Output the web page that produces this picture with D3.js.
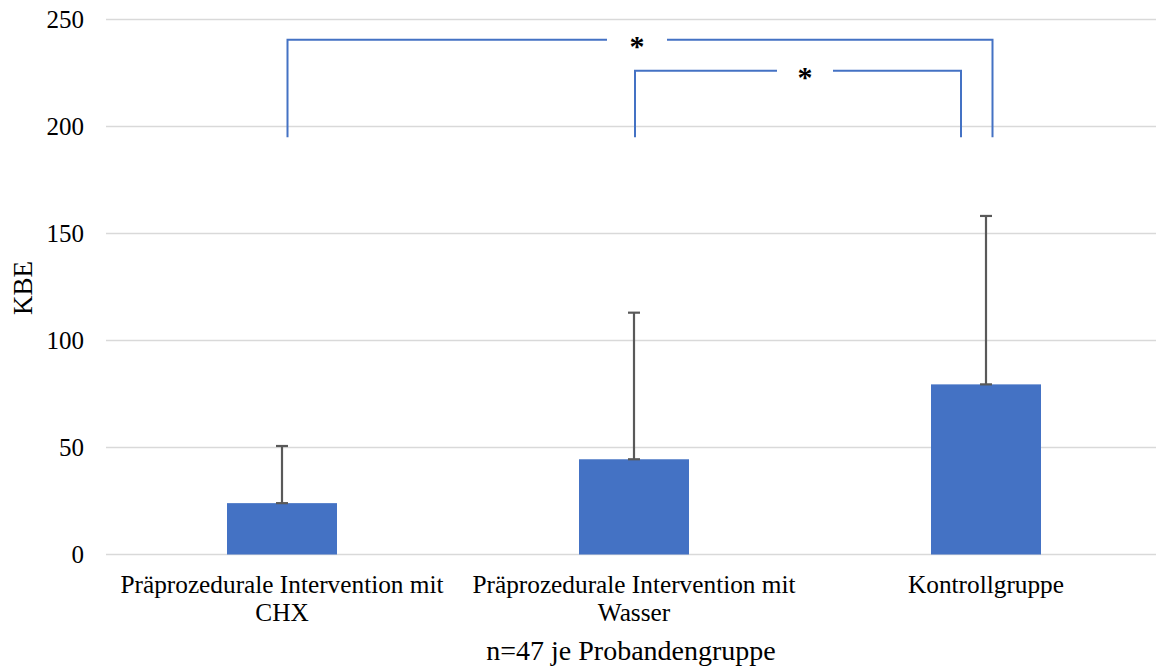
<!DOCTYPE html>
<html>
<head>
<meta charset="utf-8">
<script src="https://cdn.jsdelivr.net/npm/d3@7"></script>
<style>
  html, body { margin: 0; padding: 0; background: #fff; }
  text { font-family: "Liberation Serif", "Times New Roman", serif; fill: #000; }
</style>
</head>
<body>
<svg id="chart" width="1156" height="668"></svg>
<script>
const categories = [
  ['Präprozedurale Intervention mit', 'CHX'],
  ['Präprozedurale Intervention mit', 'Wasser'],
  ['Kontrollgruppe']
];
const means = [24, 44.5, 79.5];
const errTops = [50.7, 113, 158.2];
const yTicks = [0, 50, 100, 150, 200, 250];
// significance brackets: [from, to, baseline, top]
const brackets = [
  { from: 0, to: 2, base: 195, top: 240.5 },
  { from: 1, to: 2, base: 195, top: 226 }
];

const svg = d3.select('#chart');
const plotLeft = 106, plotRight = 1162, plotTop = 19.5, plotBottom = 554.5;

const x = d3.scaleBand()
  .domain(d3.range(categories.length))
  .range([plotLeft, plotRight])
  .paddingInner(0.6875)
  .paddingOuter(0.34375);

const y = d3.scaleLinear()
  .domain([0, 250])
  .range([plotBottom, plotTop]);

// grid
svg.append('g')
  .selectAll('line')
  .data(yTicks)
  .enter().append('line')
  .attr('x1', plotLeft).attr('x2', 1156)
  .attr('y1', d => y(d)).attr('y2', d => y(d))
  .attr('stroke', '#d9d9d9')
  .attr('stroke-width', 1.5);

// y tick labels
svg.append('g')
  .selectAll('text')
  .data(yTicks)
  .enter().append('text')
  .attr('x', 84)
  .attr('y', d => y(d) + 8)
  .attr('text-anchor', 'end')
  .style('font-size', '25px')
  .text(d => d);

// bars
svg.append('g')
  .selectAll('rect')
  .data(means)
  .enter().append('rect')
  .attr('x', (d, i) => x(i))
  .attr('y', d => y(d))
  .attr('width', x.bandwidth())
  .attr('height', d => y(0) - y(d))
  .attr('fill', '#4472c4');

// error bars
const eb = svg.append('g').attr('stroke', '#595959').attr('stroke-width', 2.2);
means.forEach((m, i) => {
  const cx = x(i) + x.bandwidth() / 2;
  eb.append('line').attr('x1', cx).attr('x2', cx).attr('y1', y(m)).attr('y2', y(errTops[i]));
  eb.append('line').attr('x1', cx - 6).attr('x2', cx + 6).attr('y1', y(errTops[i])).attr('y2', y(errTops[i]));
  eb.append('line').attr('x1', cx - 6).attr('x2', cx + 6).attr('y1', y(m)).attr('y2', y(m));
});

// significance brackets
const bg = svg.append('g').attr('stroke', '#4472c4').attr('stroke-width', 2).attr('fill', 'none');
const cxOf = i => x(i) + x.bandwidth() / 2;
const bracketX = [
  [cxOf(0) + 5.5, cxOf(2) + 6.5],
  [cxOf(1) + 1, cxOf(2) - 25]
];
const gapHalf = [30, 28];
brackets.forEach((b, k) => {
  const [x1, x2] = bracketX[k];
  const mid = k === 0 ? cxOf(1) + 3 : (cxOf(1) + cxOf(2)) / 2 - 5;
  const yt = y(b.top), yb = y(b.base);
  bg.append('path').attr('d', `M${x1},${yb} V${yt} H${mid - gapHalf[k]}`);
  bg.append('path').attr('d', `M${mid + gapHalf[k]},${yt} H${x2} V${yb}`);
  svg.append('text')
    .attr('x', mid)
    .attr('y', yt + 16)
    .attr('text-anchor', 'middle')
    .style('font-size', '30px')
    .style('font-weight', 'bold')
    .text('*');
});

// x labels
const xl = svg.append('g');
categories.forEach((lines, i) => {
  const t = xl.append('text')
    .attr('x', cxOf(i))
    .attr('y', 593)
    .attr('text-anchor', 'middle')
    .style('font-size', '25.3px');
  lines.forEach((s, j) => {
    t.append('tspan').attr('x', cxOf(i)).attr('dy', j === 0 ? 0 : 28).text(s);
  });
});

// axis titles
svg.append('text')
  .attr('x', (plotLeft + 1156) / 2)
  .attr('y', 660)
  .attr('text-anchor', 'middle')
  .style('font-size', '28px')
  .text('n=47 je Probandengruppe');

svg.append('text')
  .attr('transform', 'translate(32,288) rotate(-90)')
  .attr('text-anchor', 'middle')
  .style('font-size', '27px')
  .text('KBE');
</script>
</body>
</html>
